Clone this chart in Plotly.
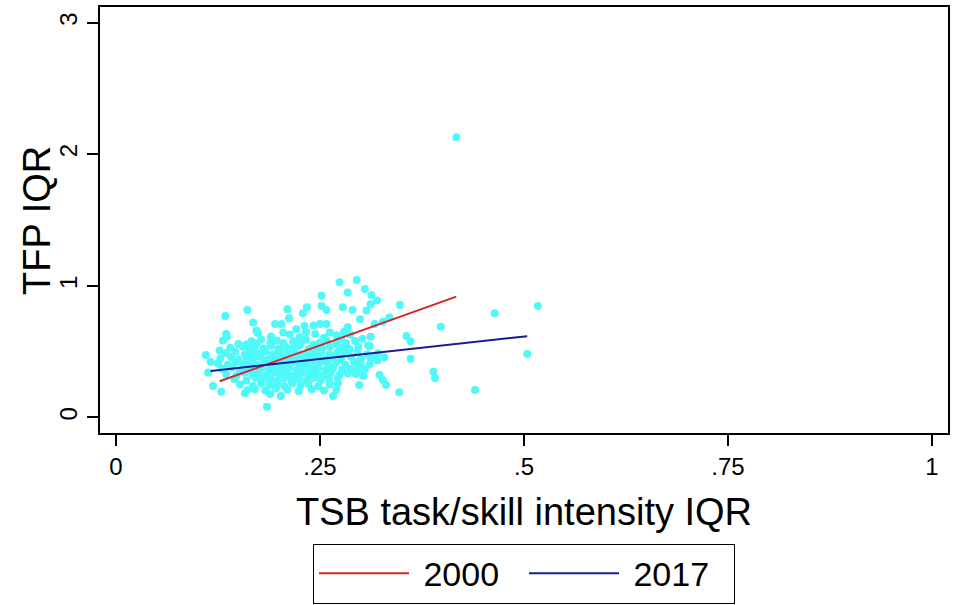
import plotly.graph_objects as go

# Scatter data: TSB task/skill intensity IQR (x) vs TFP IQR (y)
tsb_iqr = [
    # outer points
    0.274, 0.295, 0.305, 0.284, 0.313, 0.320, 0.252, 0.348, 0.312, 0.252,
    0.258, 0.234, 0.229, 0.210, 0.161, 0.134, 0.212, 0.168, 0.195, 0.203,
    0.221, 0.231, 0.242, 0.250, 0.258, 0.290, 0.307, 0.299, 0.327, 0.335,
    0.317, 0.356, 0.284, 0.172, 0.174, 0.135, 0.136, 0.131, 0.150, 0.127,
    0.110, 0.116, 0.113, 0.119, 0.129, 0.185, 0.202, 0.189, 0.158, 0.161,
    0.266, 0.270, 0.298, 0.272, 0.323, 0.327, 0.331, 0.347, 0.303, 0.294,
    0.287, 0.311, 0.319, 0.329, 0.321, 0.311, 0.302, 0.293, 0.282, 0.278,
    0.417, 0.517, 0.464, 0.398, 0.504, 0.440, 0.389, 0.391, 0.361, 0.361,
    0.312, 0.309, 0.320, 0.305, 0.295, 0.303, 0.278,
    # core
    0.205, 0.213, 0.233, 0.244, 0.262, 0.270, 0.279, 0.287, 0.190, 0.225, 0.255,
    0.166, 0.172, 0.178, 0.189, 0.197, 0.205, 0.217, 0.226, 0.233, 0.250, 0.258, 0.270, 0.276, 0.242, 0.160,
    0.140, 0.155, 0.163, 0.170, 0.181, 0.190, 0.199, 0.208, 0.216, 0.224, 0.236, 0.245, 0.253, 0.262, 0.275, 0.286, 0.297,
    0.135, 0.146, 0.158, 0.167, 0.175, 0.183, 0.192, 0.200, 0.209, 0.218, 0.226, 0.235, 0.243, 0.252, 0.262, 0.271, 0.283, 0.296, 0.308,
    0.128, 0.141, 0.150, 0.160, 0.168, 0.177, 0.186, 0.194, 0.203, 0.211, 0.220, 0.229, 0.238, 0.247, 0.256, 0.265, 0.276, 0.288, 0.300, 0.312,
    0.125, 0.137, 0.147, 0.156, 0.165, 0.173, 0.182, 0.190, 0.199, 0.207, 0.216, 0.225, 0.234, 0.243, 0.251, 0.260, 0.270, 0.281, 0.292, 0.300,
    0.130, 0.142, 0.152, 0.161, 0.170, 0.178, 0.187, 0.196, 0.204, 0.213, 0.222, 0.230, 0.239, 0.248, 0.257, 0.266, 0.277,
    0.135, 0.148, 0.158, 0.167, 0.175, 0.184, 0.193, 0.201, 0.210, 0.219, 0.227, 0.236, 0.245, 0.254, 0.263, 0.274, 0.284,
    0.145, 0.160, 0.171, 0.180, 0.189, 0.198, 0.206, 0.215, 0.224, 0.233, 0.242, 0.251, 0.261, 0.272,
    0.152, 0.168, 0.178, 0.188, 0.197, 0.206, 0.216, 0.226, 0.236, 0.248, 0.262,
    0.170, 0.183, 0.196, 0.210, 0.224, 0.240, 0.255,
]
tfp_iqr = [
    1.027, 1.045, 0.977, 0.949, 0.931, 0.888, 0.926, 0.855, 0.860, 0.847,
    0.817, 0.837, 0.792, 0.822, 0.817, 0.771, 0.754, 0.721, 0.711, 0.711,
    0.670, 0.695, 0.698, 0.711, 0.711, 0.817, 0.812, 0.746, 0.728, 0.759,
    0.711, 0.619, 0.685, 0.660, 0.640, 0.634, 0.614, 0.584, 0.558, 0.508,
    0.475, 0.424, 0.341, 0.239, 0.196, 0.082, 0.163, 0.179, 0.184, 0.209,
    0.163, 0.209, 0.247, 0.260, 0.323, 0.285, 0.247, 0.191, 0.356, 0.331,
    0.369, 0.407, 0.450, 0.455, 0.488, 0.543, 0.599, 0.581, 0.564, 0.505,
    2.129, 0.847, 0.791, 0.690, 0.482, 0.209, 0.348, 0.298, 0.447, 0.579,
    0.614, 0.546, 0.432, 0.366, 0.361, 0.315, 0.837,
    0.645, 0.630, 0.650, 0.635, 0.645, 0.625, 0.650, 0.630, 0.615, 0.610, 0.605,
    0.580, 0.560, 0.590, 0.570, 0.585, 0.565, 0.580, 0.560, 0.590, 0.570, 0.585, 0.560, 0.595, 0.555, 0.555,
    0.530, 0.540, 0.520, 0.535, 0.525, 0.545, 0.520, 0.535, 0.525, 0.545, 0.520, 0.535, 0.525, 0.540, 0.530, 0.520, 0.535,
    0.490, 0.500, 0.480, 0.495, 0.485, 0.500, 0.480, 0.495, 0.485, 0.500, 0.480, 0.495, 0.485, 0.500, 0.480, 0.495, 0.485, 0.495, 0.480,
    0.450, 0.460, 0.440, 0.455, 0.445, 0.460, 0.440, 0.455, 0.445, 0.460, 0.440, 0.455, 0.445, 0.460, 0.440, 0.455, 0.445, 0.460, 0.440, 0.455,
    0.410, 0.400, 0.420, 0.405, 0.415, 0.400, 0.420, 0.405, 0.415, 0.400, 0.420, 0.405, 0.415, 0.400, 0.420, 0.405, 0.415, 0.400, 0.420, 0.405,
    0.370, 0.380, 0.360, 0.375, 0.365, 0.380, 0.360, 0.375, 0.365, 0.380, 0.360, 0.375, 0.365, 0.380, 0.360, 0.375, 0.365,
    0.330, 0.320, 0.340, 0.325, 0.335, 0.320, 0.340, 0.325, 0.335, 0.320, 0.340, 0.325, 0.335, 0.320, 0.340, 0.325, 0.335,
    0.290, 0.280, 0.300, 0.285, 0.295, 0.280, 0.300, 0.285, 0.295, 0.280, 0.300, 0.285, 0.295, 0.300,
    0.250, 0.240, 0.260, 0.245, 0.255, 0.240, 0.260, 0.245, 0.255, 0.240, 0.250,
    0.215, 0.205, 0.220, 0.210, 0.200, 0.215, 0.205,
]

# Fitted lines (linear fits by year)
fit_x_2000 = [0.127, 0.417]
fit_y_2000 = [0.275, 0.918]
fit_x_2017 = [0.116, 0.504]
fit_y_2017 = [0.353, 0.618]

x_ticks = [0, 0.25, 0.5, 0.75, 1]
x_tick_labels = ["0", ".25", ".5", ".75", "1"]
y_ticks = [0, 1, 2, 3]
y_tick_labels = ["0", "1", "2", "3"]

FONT = "Liberation Sans, Arial, sans-serif"

fig = go.Figure()
fig.add_trace(go.Scatter(
    x=tsb_iqr, y=tfp_iqr, mode="markers", showlegend=False,
    marker=dict(size=8, color="#50F8F8", line=dict(width=0)),
))
fig.add_trace(go.Scatter(
    x=fit_x_2000, y=fit_y_2000, mode="lines", name="\u00a02000",
    line=dict(color="#D62728", width=2),
))
fig.add_trace(go.Scatter(
    x=fit_x_2017, y=fit_y_2017, mode="lines", name="\u00a02017",
    line=dict(color="#1A1A96", width=2),
))

axis_common = dict(
    showline=True, linecolor="black", linewidth=2, mirror=True,
    ticks="outside", ticklen=11, tickwidth=1.5, tickcolor="black",
    showgrid=False, zeroline=False, automargin=False,
    tickfont=dict(family=FONT, size=24, color="black"),
)

fig.update_layout(
    width=954, height=605,
    margin=dict(l=100, r=6, t=7, b=172, autoexpand=False),
    paper_bgcolor="white", plot_bgcolor="white",
    font=dict(family=FONT, color="black"),
    xaxis=dict(
        range=[-0.0196, 1.0196], tickvals=x_ticks, ticktext=x_tick_labels,
        title=dict(text="TSB task/skill intensity IQR",
                   font=dict(family=FONT, size=38), standoff=20),
        **axis_common,
    ),
    yaxis=dict(
        range=[-0.118, 3.119], tickvals=y_ticks, ticktext=y_tick_labels,
        tickangle=-90,
        **axis_common,
    ),
    annotations=[dict(
        text="TFP IQR", xref="paper", yref="paper",
        x=-0.0743, y=0.5, xanchor="center", yanchor="middle",
        textangle=-90, showarrow=False,
        font=dict(family=FONT, size=38, color="black"),
    )],
    legend=dict(
        orientation="h", x=0.5, xanchor="center", y=-0.4005, yanchor="bottom",
        bordercolor="black", borderwidth=1, bgcolor="white",
        font=dict(family=FONT, size=34, color="black"),
        itemwidth=90, entrywidth=105, entrywidthmode="pixels",
    ),
)

fig.write_html("out.html", config={"displayModeBar": False},
               post_script="document.body.style.margin='0';")
